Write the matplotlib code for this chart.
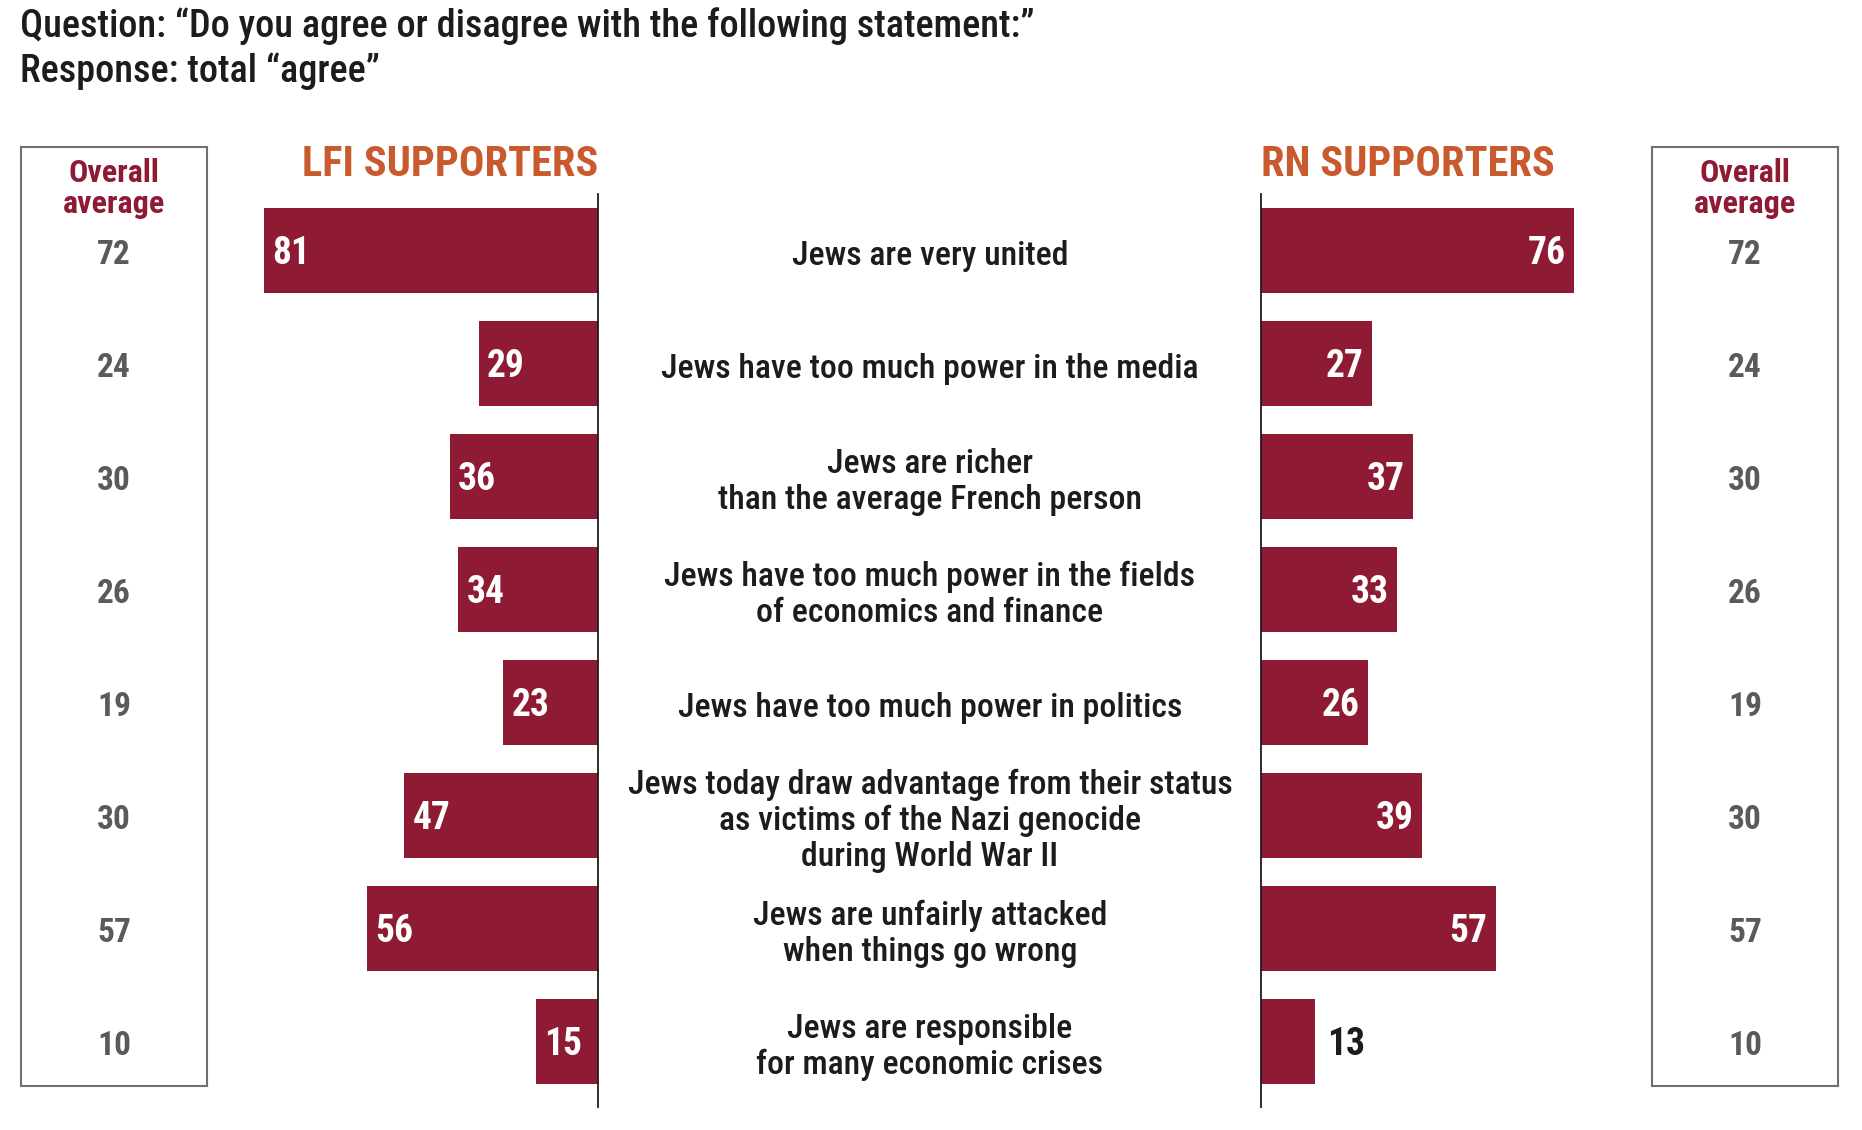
import matplotlib
matplotlib.use("Agg")
import matplotlib.pyplot as plt
from matplotlib import transforms

# Data
statements = [
    "Jews are very united",
    "Jews have too much power in the media",
    "Jews are richer\nthan the average French person",
    "Jews have too much power in the fields\nof economics and finance",
    "Jews have too much power in politics",
    "Jews today draw advantage from their status\nas victims of the Nazi genocide\nduring World War II",
    "Jews are unfairly attacked\nwhen things go wrong",
    "Jews are responsible\nfor many economic crises",
]
lfi = [81, 29, 36, 34, 23, 47, 56, 15]
rn = [76, 27, 37, 33, 26, 39, 57, 13]
overall = [72, 24, 30, 26, 19, 30, 57, 10]

title_lines = ["Question: \u201cDo you agree or disagree with the following statement:\u201d",
               "Response: total \u201cagree\u201d"]
left_title = "LFI SUPPORTERS"
right_title = "RN SUPPORTERS"
avg_title = ["Overall", "average"]

# Style
BAR = "#8E1A33"
ORANGE = "#C85A2D"
GREY = "#5A5A5A"
INK = "#1C1C1C"
BOXLINE = "#707070"
plt.rcParams['font.family'] = ['Roboto Condensed', 'Liberation Sans Narrow', 'DejaVu Sans']

W, H = 1862, 1130
fig = plt.figure(figsize=(W / 100, H / 100), dpi=100)


def rect(x0, y0, x1, y1):
    # pixel box (top-left origin) -> figure fraction
    return [x0 / W, 1 - y1 / H, (x1 - x0) / W, (y1 - y0) / H]


ROW0, STEP = 250.4, 113.0   # pixel centre of first row, row pitch
PPU = 4.12                  # pixels per percentage point
ZERO_L, ZERO_R = 598, 1261
CAP = 0.711


def row_lim(top, bottom):
    return (bottom - ROW0) / STEP, (top - ROW0) / STEP


rows = list(range(len(statements)))

# Left bars (LFI)
axL = fig.add_axes(rect(230, 194, ZERO_L, 1107))
axL.barh(rows, lfi, height=0.75, color=BAR)
axL.set_xlim((ZERO_L - 230) / PPU, 0)
axL.set_ylim(*row_lim(194, 1107))

# Right bars (RN)
axR = fig.add_axes(rect(ZERO_R, 194, 1640, 1107))
axR.barh(rows, rn, height=0.75, color=BAR)
axR.set_xlim(0, (1640 - ZERO_R) / PPU)
axR.set_ylim(*row_lim(194, 1107))

for ax, keep in ((axL, 'right'), (axR, 'left')):
    ax.set_xticks([])
    ax.set_yticks([])
    ax.patch.set_alpha(0)
    for name, sp in ax.spines.items():
        sp.set_visible(name == keep)
    ax.spines[keep].set_color(INK)
    ax.spines[keep].set_linewidth(1.3)

VFS = 27
for i, v in enumerate(lfi):
    axL.annotate(str(v), xy=(v, i), xytext=(6, -VFS * CAP / 2), textcoords='offset points',
                 ha='left', va='baseline', color='white', fontsize=VFS, fontweight='bold')
for i, v in enumerate(rn):
    if v >= 15:
        axR.annotate(str(v), xy=(v, i), xytext=(-6, -VFS * CAP / 2), textcoords='offset points',
                     ha='right', va='baseline', color='white', fontsize=VFS, fontweight='bold')
    else:
        axR.annotate(str(v), xy=(v, i), xytext=(9, -VFS * CAP / 2), textcoords='offset points',
                     ha='left', va='baseline', color=INK, fontsize=VFS, fontweight='bold')

# Statement labels in the middle
SFS = 24.3
LINE = 25.9  # points between lines
mid = transforms.blended_transform_factory(fig.transFigure, axL.transData)
for i, s in enumerate(statements):
    parts = s.split("\n")
    n = len(parts)
    for k, part in enumerate(parts):
        dy = -SFS * CAP / 2 - 2 - (k - (n - 1) / 2) * LINE
        axL.annotate(part, xy=(930 / W, i), xycoords=mid, xytext=(0, dy),
                     textcoords='offset points', ha='center', va='baseline',
                     color=INK, fontsize=SFS, fontweight='medium', annotation_clip=False)

# Overall average boxes
AFS = 24
for x0, x1 in ((21, 207), (1652, 1838)):
    axB = fig.add_axes(rect(x0, 146.7, x1, 1086))
    axB.set_xlim(0, 1)
    axB.set_ylim(*row_lim(146.7, 1086))
    axB.set_xticks([])
    axB.set_yticks([])
    for sp in axB.spines.values():
        sp.set_color(BOXLINE)
        sp.set_linewidth(1.5)
    axB.text(0.5, (182 - ROW0) / STEP, avg_title[0], ha='center', va='baseline',
             color=BAR, fontsize=23, fontweight='bold')
    axB.text(0.5, (213 - ROW0) / STEP, avg_title[1], ha='center', va='baseline',
             color=BAR, fontsize=23, fontweight='bold')
    for i, v in enumerate(overall):
        axB.annotate(str(v), xy=(0.5, i), xytext=(0, -AFS * CAP / 2 - 1), textcoords='offset points',
                     ha='center', va='baseline', color=GREY, fontsize=AFS, fontweight='bold')

# Headers
fig.text(ZERO_L / W, 1 - 175.7 / H, left_title, ha='right', va='baseline',
         color=ORANGE, fontsize=30.5, fontweight='bold')
fig.text(ZERO_R / W, 1 - 175.7 / H, right_title, ha='left', va='baseline',
         color=ORANGE, fontsize=30.5, fontweight='bold')

# Question text
fig.text(20 / W, 1 - 37.3 / H, title_lines[0], ha='left', va='baseline', color=INK,
         fontsize=27.5, fontweight='medium')
fig.text(20 / W, 1 - 81.7 / H, title_lines[1], ha='left', va='baseline', color=INK,
         fontsize=27.5, fontweight='medium')

fig.savefig("out.png", dpi=100)
